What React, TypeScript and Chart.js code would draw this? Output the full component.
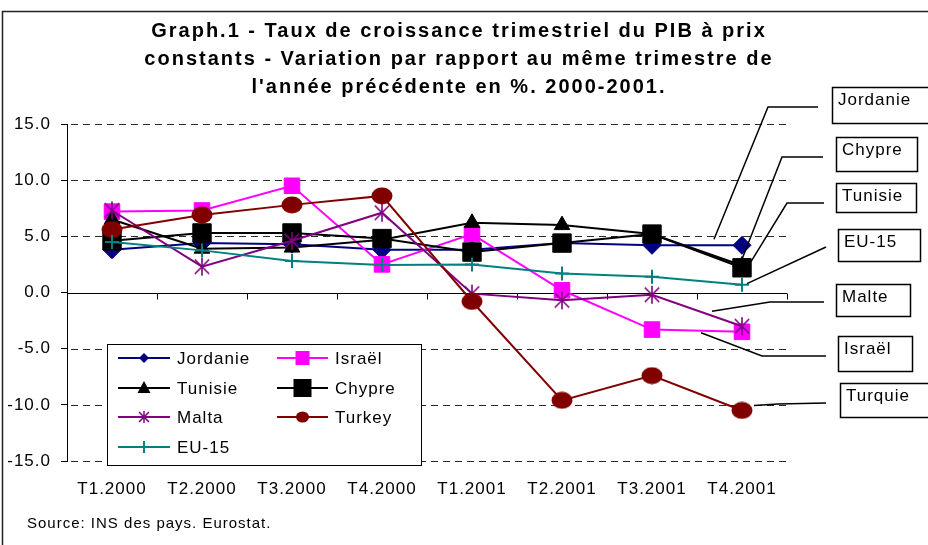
import React, { useEffect, useRef } from "react";
import { Chart, registerables } from "chart.js";

Chart.register(...registerables);

// ---------- data ----------
const categories = ["T1.2000", "T2.2000", "T3.2000", "T4.2000", "T1.2001", "T2.2001", "T3.2001", "T4.2001"];
const jordanie = [3.8, 4.4, 4.3, 3.8, 3.8, 4.4, 4.2, 4.2];
const israel = [7.2, 7.3, 9.5, 2.5, 5.2, 0.2, -3.3, -3.5];
const tunisie = [6.5, 3.9, 4.0, 4.7, 6.2, 6.0, 5.2, 2.4];
const chypre = [4.6, 5.3, 5.3, 4.8, 3.6, 4.4, 5.2, 2.2];
const malta = [7.3, 2.3, 4.6, 7.1, -0.1, -0.7, -0.2, -3.0];
const turkey = [5.6, 6.9, 7.8, 8.6, -0.8, -9.6, -7.4, -10.5];
const eu15 = [4.5, 3.75, 2.8, 2.45, 2.5, 1.7, 1.4, 0.7];
const yTickValues = [15, 10, 5, 0, -5, -10, -15];

const seriesNames = ["Jordanie", "Israël", "Tunisie", "Chypre", "Malta", "Turkey", "EU-15"];
const calloutNames = ["Jordanie", "Israël", "Tunisie", "Chypre", "Malte", "Turquie", "EU-15"];
const titleLines = [
  "Graph.1 - Taux de croissance trimestriel du PIB à prix",
  "constants - Variation par rapport au même trimestre de",
  "l'année précédente en %. 2000-2001.",
];
const sourceText = "Source: INS des pays. Eurostat.";

// ---------- styles ----------
const FONT = '"Liberation Sans", Arial, sans-serif';
const colors = ["#000080", "#FF00FF", "#000000", "#000000", "#800080", "#800000", "#008080"];
const kinds = ["diamond", "square", "triangle", "bigsquare", "asterisk", "ellipse", "plus"];

function makeAsterisk(size: number, color: string) {
  const c = document.createElement("canvas");
  c.width = size; c.height = size;
  const g = c.getContext("2d")!;
  g.strokeStyle = color; g.lineWidth = 1.6;
  const m = size / 2, r = size / 2 - 1;
  g.beginPath();
  g.moveTo(m - r * 0.8, m - r * 0.8); g.lineTo(m + r * 0.8, m + r * 0.8);
  g.moveTo(m + r * 0.8, m - r * 0.8); g.lineTo(m - r * 0.8, m + r * 0.8);
  g.moveTo(m, m - r); g.lineTo(m, m + r);
  g.stroke();
  return c;
}
function makeEllipse(w: number, h: number, color: string) {
  const c = document.createElement("canvas");
  c.width = w; c.height = h;
  const g = c.getContext("2d")!;
  g.fillStyle = color;
  g.beginPath();
  g.ellipse(w / 2, h / 2, w / 2 - 0.5, h / 2 - 0.5, 0, 0, Math.PI * 2);
  g.fill();
  return c;
}

function drawMarker(ctx: CanvasRenderingContext2D, kind: string, x: number, y: number, color: string) {
  ctx.save();
  ctx.fillStyle = color; ctx.strokeStyle = color; ctx.lineWidth = 1.5;
  ctx.beginPath();
  if (kind === "diamond") {
    const r = 5;
    ctx.moveTo(x, y - r); ctx.lineTo(x + r, y); ctx.lineTo(x, y + r); ctx.lineTo(x - r, y); ctx.closePath(); ctx.fill();
  } else if (kind === "square") {
    ctx.rect(x - 7, y - 7, 14, 14); ctx.fill();
  } else if (kind === "bigsquare") {
    ctx.rect(x - 9, y - 9, 18, 18); ctx.fill();
  } else if (kind === "triangle") {
    ctx.moveTo(x, y - 7); ctx.lineTo(x + 6.5, y + 5); ctx.lineTo(x - 6.5, y + 5); ctx.closePath(); ctx.fill();
  } else if (kind === "asterisk") {
    const r = 5;
    ctx.moveTo(x - r, y - r); ctx.lineTo(x + r, y + r);
    ctx.moveTo(x + r, y - r); ctx.lineTo(x - r, y + r);
    ctx.moveTo(x, y - r - 1); ctx.lineTo(x, y + r + 1);
    ctx.stroke();
  } else if (kind === "ellipse") {
    ctx.ellipse(x, y, 6.5, 5.5, 0, 0, Math.PI * 2); ctx.fill();
  } else if (kind === "plus") {
    ctx.lineWidth = 2;
    ctx.moveTo(x - 5, y); ctx.lineTo(x + 5, y);
    ctx.moveTo(x, y - 6); ctx.lineTo(x, y + 6);
    ctx.stroke();
  }
  ctx.restore();
}

// callout layout: box, elbow path, end offset from the series' last point
const callouts: { idx: number; label: string; box: [number, number, number, number]; path: [number, number][]; end: [number, number] }[] = [
  { idx: 0, label: calloutNames[0], box: [832, 87, 100, 36], path: [[818, 107], [768, 107]], end: [-28, -6] },
  { idx: 3, label: calloutNames[3], box: [836, 137, 81, 34], path: [[823, 157], [782, 157]], end: [-1, -6] },
  { idx: 2, label: calloutNames[2], box: [836, 183, 80, 29], path: [[824, 203], [787, 203]], end: [9, -4] },
  { idx: 6, label: calloutNames[6], box: [838, 229, 82, 32], path: [[826, 247]], end: [5, -1] },
  { idx: 4, label: calloutNames[4], box: [836, 284, 74, 32], path: [[824, 302], [770, 302]], end: [-30, -15] },
  { idx: 1, label: calloutNames[1], box: [838, 336, 74, 35], path: [[826, 356], [762, 356]], end: [-41, 1] },
  { idx: 5, label: calloutNames[5], box: [840, 383, 90, 34], path: [[826, 403], [778, 404]], end: [12, -5] },
];

const decorPlugin = {
  id: "decor",
  beforeDatasetsDraw(chart: any) {
    const { ctx, chartArea, scales } = chart;
    const y = scales.y, x = scales.x;
    ctx.save();
    ctx.strokeStyle = "#2a2a2a";
    ctx.lineWidth = 1;
    ctx.setLineDash([7, 5]);
    for (const v of yTickValues) {
      if (v === 0) continue;
      const py = Math.round(y.getPixelForValue(v)) + 0.5;
      ctx.beginPath();
      ctx.moveTo(chartArea.left + 4, py);
      ctx.lineTo(chartArea.right, py);
      ctx.stroke();
    }
    ctx.setLineDash([]);
    ctx.strokeStyle = "#000";
    const p0 = Math.round(y.getPixelForValue(0)) + 0.5;
    ctx.beginPath();
    ctx.moveTo(chartArea.left, p0);
    ctx.lineTo(chartArea.right, p0);
    const half = (x.getPixelForValue(1) - x.getPixelForValue(0)) / 2;
    for (let i = 0; i < categories.length; i++) {
      const bx = Math.round(x.getPixelForValue(i) + half) + 0.5;
      ctx.moveTo(bx, p0);
      ctx.lineTo(bx, p0 + 6);
    }
    ctx.stroke();
    ctx.restore();
  },
  afterDraw(chart: any) {
    const { ctx } = chart;
    ctx.save();
    // frame
    ctx.strokeStyle = "#222";
    ctx.lineWidth = 1.5;
    ctx.beginPath();
    ctx.moveTo(928, 11.5);
    ctx.lineTo(2.5, 11.5);
    ctx.lineTo(2.5, 545);
    ctx.stroke();

    // title
    (ctx as any).letterSpacing = "2px";
    ctx.fillStyle = "#000";
    ctx.font = `bold 20px ${FONT}`;
    ctx.textAlign = "center";
    ctx.textBaseline = "middle";
    const ty = [31, 59, 87];
    titleLines.forEach((t, i) => ctx.fillText(t, 459, ty[i]));

    // source
    (ctx as any).letterSpacing = "1px";
    ctx.font = `15px ${FONT}`;
    ctx.textAlign = "left";
    ctx.fillText(sourceText, 27, 524);

    // legend
    ctx.fillStyle = "#fff";
    ctx.fillRect(107, 344, 314, 121);
    ctx.strokeStyle = "#000";
    ctx.lineWidth = 1;
    ctx.strokeRect(107.5, 344.5, 314, 121);
    const rowY = [358, 388, 417, 447];
    ctx.font = `17px ${FONT}`;
    (ctx as any).letterSpacing = "1px";
    seriesNames.forEach((name, i) => {
      const col = i % 2, row = Math.floor(i / 2);
      const x0 = col ? 277 : 118, x1 = col ? 328 : 170, tx = col ? 335 : 177;
      const yy = rowY[row];
      ctx.strokeStyle = colors[i];
      ctx.lineWidth = 2;
      ctx.beginPath();
      ctx.moveTo(x0, yy);
      ctx.lineTo(x1, yy);
      ctx.stroke();
      drawMarker(ctx, kinds[i], (x0 + x1) / 2, yy, colors[i]);
      ctx.fillStyle = "#000";
      ctx.textBaseline = "middle";
      ctx.fillText(name, tx, yy + 1);
    });

    // callouts
    callouts.forEach((c) => {
      const meta = chart.getDatasetMeta(c.idx);
      const pt = meta.data[meta.data.length - 1];
      const ex = pt.x + c.end[0], ey = pt.y + c.end[1];
      ctx.strokeStyle = "#000";
      ctx.lineWidth = 1.5;
      ctx.beginPath();
      ctx.moveTo(c.path[0][0], c.path[0][1]);
      for (let k = 1; k < c.path.length; k++) ctx.lineTo(c.path[k][0], c.path[k][1]);
      ctx.lineTo(ex, ey);
      ctx.stroke();
      const [bx, by, bw, bh] = c.box;
      ctx.fillStyle = "#fff";
      ctx.fillRect(bx, by, bw, bh);
      ctx.lineWidth = 1.5;
      ctx.strokeRect(bx + 0.5, by + 0.5, bw, bh);
      ctx.fillStyle = "#000";
      ctx.textAlign = "left";
      ctx.textBaseline = "middle";
      ctx.font = `17px ${FONT}`;
      ctx.fillText(c.label, bx + 6, by + 13);
    });
    ctx.restore();
  },
};

const spacingPlugin = {
  id: "spacing",
  beforeDraw(chart: any) {
    (chart.ctx as any).letterSpacing = "1px";
  },
};

export default function App() {
  const ref = useRef<HTMLCanvasElement | null>(null);
  useEffect(() => {
    document.body.style.margin = "0";
    const canvas = ref.current!;
    const values = [jordanie, israel, tunisie, chypre, malta, turkey, eu15];
    const pointStyles: any[] = ["rectRot", "rect", "triangle", "rect", makeAsterisk(20, colors[4]), makeEllipse(22, 18, colors[5]), "cross"];
    const radii = [9, 11, 9, 13, 10, 10, 7];
    const n = values.length;
    const datasets = values.map((d, i) => ({
      label: seriesNames[i],
      data: d,
      borderColor: colors[i],
      backgroundColor: colors[i],
      borderWidth: 2,
      pointStyle: pointStyles[i],
      pointRadius: radii[i],
      pointBorderWidth: i === 6 ? 2 : 1,
      pointBackgroundColor: colors[i],
      pointBorderColor: colors[i],
      tension: 0,
      order: n - 1 - i,
      clip: false as any,
    }));
    const chart = new Chart(canvas, {
      type: "line",
      data: { labels: categories, datasets },
      options: {
        animation: false,
        responsive: false,
        maintainAspectRatio: false,
        devicePixelRatio: 1,
        events: [],
        layout: { padding: { left: 0, top: 124, right: 141, bottom: 40 } },
        plugins: { legend: { display: false }, title: { display: false }, tooltip: { enabled: false } },
        scales: {
          x: {
            type: "category",
            offset: true,
            grid: { display: false },
            border: { display: false },
            ticks: { font: { family: FONT, size: 17 }, color: "#000", padding: 10, maxRotation: 0, autoSkip: false },
            afterFit(s: any) { s.height = 44; },
          },
          y: {
            min: -15,
            max: 15,
            afterBuildTicks(s: any) { s.ticks = yTickValues.map((v) => ({ value: v })); },
            ticks: { font: { family: FONT, size: 17 }, color: "#000", padding: 10, callback: (v: any) => Number(v).toFixed(1) },
            grid: { drawOnChartArea: false, drawTicks: true, tickLength: 6, color: "#000" },
            border: { display: true, color: "#000", width: 1 },
            afterFit(s: any) { s.width = 67; },
          },
        },
      } as any,
      plugins: [spacingPlugin, decorPlugin],
    });
    return () => chart.destroy();
  }, []);
  return (
    <div style={{ width: 928, height: 545, background: "#fff" }}>
      <canvas ref={ref} width={928} height={545} style={{ display: "block" }} />
    </div>
  );
}
